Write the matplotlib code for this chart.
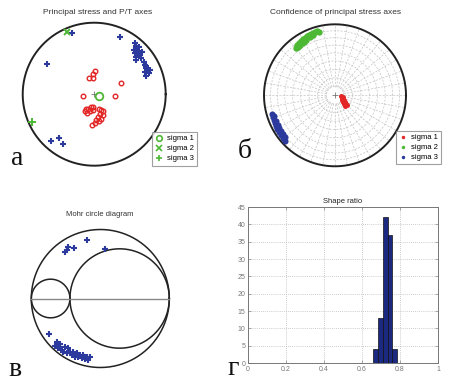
import numpy as np
import matplotlib
matplotlib.use("Agg")
import matplotlib.pyplot as plt
from matplotlib.lines import Line2D

W, H = 449, 382

# --- panel a: P/T axes (stereonet coords, unit circle) ---
p_x = [0.01, -0.01, -0.07, -0.01, 0.37, -0.15, 0.29,
       -0.11, -0.08, -0.05, -0.01, -0.13, -0.10, -0.06, -0.02, 0.07, 0.10,
       0.13, 0.08, 0.12, 0.06, 0.09, 0.03, 0.07, 0.01, -0.03]
p_y = [0.32, 0.28, 0.22, 0.22, 0.15, -0.03, -0.02,
       -0.21, -0.20, -0.18, -0.18, -0.24, -0.26, -0.24, -0.22, -0.20, -0.22,
       -0.24, -0.27, -0.29, -0.32, -0.34, -0.36, -0.38, -0.40, -0.43]
t_x = [-0.31, 0.36, -0.66, -0.61, -0.49, -0.43,
       0.57, 0.59, 0.55, 0.61, 0.57, 0.64, 0.59, 0.66, 0.69, 0.71, 0.73,
       0.71, 0.76, 0.73, 0.63, 0.67, 0.58, 0.73, 0.78]
t_y = [0.85, 0.80, 0.42, -0.66, -0.61, -0.70,
       0.71, 0.67, 0.62, 0.60, 0.57, 0.55, 0.52, 0.50, 0.45, 0.41, 0.36,
       0.31, 0.29, 0.25, 0.66, 0.59, 0.48, 0.40, 0.34]
sigma1 = (0.07, -0.02)
sigma2 = (-0.38, 0.87)
sigma3 = (-0.87, -0.39)

# --- panel b: confidence clouds ---
c1_x = [0.085, 0.10, 0.113, 0.10, 0.127, 0.113, 0.141, 0.127, 0.155, 0.141, 0.169]
c1_y = [-0.01, -0.04, -0.024, -0.066, -0.066, -0.094, -0.094, -0.12, -0.12, -0.15, -0.137]
c2_x = [-0.549, -0.535, -0.507, -0.479, -0.493, -0.451, -0.423, -0.437, -0.394, -0.366,
        -0.338, -0.310, -0.282, -0.254, -0.225, -0.352, -0.408, -0.310, -0.465, -0.521]
c2_y = [0.666, 0.708, 0.737, 0.766, 0.708, 0.793, 0.808, 0.751, 0.835, 0.849,
        0.863, 0.877, 0.892, 0.906, 0.892, 0.821, 0.779, 0.849, 0.737, 0.680]
c3_x = [-0.887, -0.873, -0.859, -0.845, -0.831, -0.817, -0.789, -0.761, -0.732, -0.704,
        -0.831, -0.803, -0.789, -0.761, -0.732, -0.704, -0.859]
c3_y = [-0.263, -0.306, -0.348, -0.390, -0.432, -0.475, -0.517, -0.559, -0.601, -0.644,
        -0.362, -0.418, -0.461, -0.503, -0.545, -0.587, -0.292]

# --- panel c: Mohr circle ---
mohr_sigma = [-1.0, -0.44, 1.0]   # sigma3, sigma2, sigma1
m_x = [-0.464, -0.487, -0.512, -0.381, -0.197, 0.068,
       -0.743, -0.632, -0.584, -0.657, -0.609, -0.559, -0.512, -0.464, -0.439, -0.487,
       -0.391, -0.342, -0.294, -0.246, -0.197, -0.149, -0.174, -0.367, -0.414, -0.536,
       -0.584, -0.319, -0.270, -0.222]
m_y = [0.751, 0.703, 0.670, 0.728, 0.848, 0.713,
       -0.519, -0.626, -0.659, -0.688, -0.722, -0.746, -0.699, -0.722, -0.771, -0.794,
       -0.771, -0.794, -0.819, -0.819, -0.843, -0.852, -0.891, -0.843, -0.819, -0.771,
       -0.699, -0.852, -0.867, -0.881]

# --- panel d: shape ratio histogram ---
bin_left = [0.66, 0.685, 0.71, 0.735, 0.76]
bin_count = [4, 13, 42, 37, 4]
bin_w = 0.025

RED = "#e32626"
GREEN = "#4db833"
BLUE = "#2b3a9c"

fig = plt.figure(figsize=(W / 100, H / 100), dpi=100)
plt.rcParams["font.family"] = ["Liberation Sans", "DejaVu Sans"]


def circle_ax(cx, cy, r, pad=1.08):
    ax = fig.add_axes([(cx - r * pad) / W, 1 - (cy + r * pad) / H,
                       2 * r * pad / W, 2 * r * pad / H])
    ax.set_xlim(-pad, pad)
    ax.set_ylim(-pad, pad)
    ax.set_aspect("equal")
    ax.axis("off")
    return ax


th = np.linspace(0, 2 * np.pi, 400)

# panel a
ax = circle_ax(94.2, 94.2, 71.5)
ax.plot(np.cos(th), np.sin(th), color="#222222", lw=1.4)
ax.plot(t_x, t_y, "+", color=BLUE, ms=4, mew=1.5)
ax.plot(p_x, p_y, "o", mfc="none", mec=RED, ms=3.3, mew=1.0)
ax.plot(0, 0, "+", color="#777777", ms=4, mew=0.6)
ax.plot(*sigma1, "o", mfc="none", mec=GREEN, ms=5.5, mew=1.3)
ax.plot(*sigma2, "x", color=GREEN, ms=4.5, mew=1.4)
ax.plot(*sigma3, "+", color=GREEN, ms=5.5, mew=1.4)
h = [Line2D([], [], ls="none", marker="o", mfc="none", mec=GREEN, ms=4, mew=1.2),
     Line2D([], [], ls="none", marker="x", color=GREEN, ms=4, mew=1.2),
     Line2D([], [], ls="none", marker="+", color=GREEN, ms=5, mew=1.2)]
leg = ax.legend(h, ["sigma 1", "sigma 2", "sigma 3"], loc="upper left",
                bbox_to_anchor=(152 / W, 1 - 132 / H), bbox_transform=fig.transFigure,
                fontsize=5.5, fancybox=False, edgecolor="#888888", borderpad=0.4,
                labelspacing=0.35, handlelength=1.0, handletextpad=0.6, borderaxespad=0)
leg.get_frame().set_linewidth(0.8)

# panel b
ax = circle_ax(335, 95.3, 71)
for pl in range(10, 90, 10):
    r = np.sqrt(2) * np.sin(np.radians(90 - pl) / 2)
    ax.plot(r * np.cos(th), r * np.sin(th), color="#c4c4c4", lw=0.5, ls=(0, (3, 2)))
r0 = np.sqrt(2) * np.sin(np.radians(10) / 2)
for a in np.radians(np.arange(0, 360, 10)):
    ax.plot([r0 * np.cos(a), np.cos(a)], [r0 * np.sin(a), np.sin(a)],
            color="#c4c4c4", lw=0.5, ls=(0, (3, 2)))
ax.plot(np.cos(th), np.sin(th), color="#222222", lw=1.4)
ax.plot(0, 0, "+", color="#777777", ms=4, mew=0.6)
ax.plot(c1_x, c1_y, "o", color=RED, ms=3.6, mew=0)
ax.plot(c2_x, c2_y, "o", color=GREEN, ms=4.6, mew=0)
ax.plot(c3_x, c3_y, "o", color=BLUE, ms=4.4, mew=0)
h = [Line2D([], [], ls="none", marker="o", color=c, ms=2.5, mew=0) for c in (RED, GREEN, BLUE)]
leg = ax.legend(h, ["sigma 1", "sigma 2", "sigma 3"], loc="upper left",
                bbox_to_anchor=(396 / W, 1 - 131 / H), bbox_transform=fig.transFigure,
                fontsize=5.5, fancybox=False, edgecolor="#888888", borderpad=0.4,
                labelspacing=0.35, handlelength=1.0, handletextpad=0.6, borderaxespad=0)
leg.get_frame().set_linewidth(0.8)

# panel c: Mohr
ax = circle_ax(100.3, 298.5, 69)
s3, s2, s1 = mohr_sigma
for lo, hi in [(s3, s1), (s3, s2), (s2, s1)]:
    c, rr = (lo + hi) / 2, (hi - lo) / 2
    ax.plot(c + rr * np.cos(th), rr * np.sin(th), color="#222222", lw=1.1)
ax.plot([s3, s1], [0, 0], color="#888888", lw=1.0)
ax.plot(m_x, m_y, "+", color=BLUE, ms=4, mew=1.5)

# panel d: histogram
ax = fig.add_axes([248 / W, 1 - 363 / H, 190 / W, 156 / H])
ax.bar(bin_left, bin_count, width=bin_w, align="edge", color="#1b2a80",
       edgecolor="#111111", lw=0.5, zorder=3)
ax.set_xlim(0, 1)
ax.set_ylim(0, 45)
ax.set_xticks(np.arange(0, 1.01, 0.2))
ax.set_xticklabels(["0", "0.2", "0.4", "0.6", "0.8", "1"])
ax.set_yticks(np.arange(0, 46, 5))
ax.grid(True, color="#bbbbbb", ls=(0, (1, 1.5)), lw=0.6)
ax.tick_params(labelsize=5, labelcolor="#777777", color="#888888",
               length=2, width=0.5, direction="in", pad=2, top=True, right=True)
for sp in ax.spines.values():
    sp.set_color("#777777")
    sp.set_linewidth(0.7)
ax.set_title("Shape ratio", fontsize=5.5, pad=3, color="#222222")

# titles
fig.text(98 / W, 1 - 12 / H, "Principal stress and P/T axes", fontsize=6,
         ha="center", va="center", color="#333333")
fig.text(335 / W, 1 - 13 / H, "Confidence of principal stress axes", fontsize=6,
         ha="center", va="center", color="#333333")
fig.text(99.5 / W, 1 - 214 / H, "Mohr circle diagram", fontsize=5.5,
         ha="center", va="center", color="#333333")

# panel letters
for x, y, s in [(11, 165, "а"), (238, 158, "б"), (8, 376, "в"), (227, 375, "г")]:
    fig.text(x / W, 1 - y / H, s, fontsize=20, family="Liberation Serif",
             ha="left", va="baseline", color="#111111")

fig.savefig("out.png", dpi=100)
